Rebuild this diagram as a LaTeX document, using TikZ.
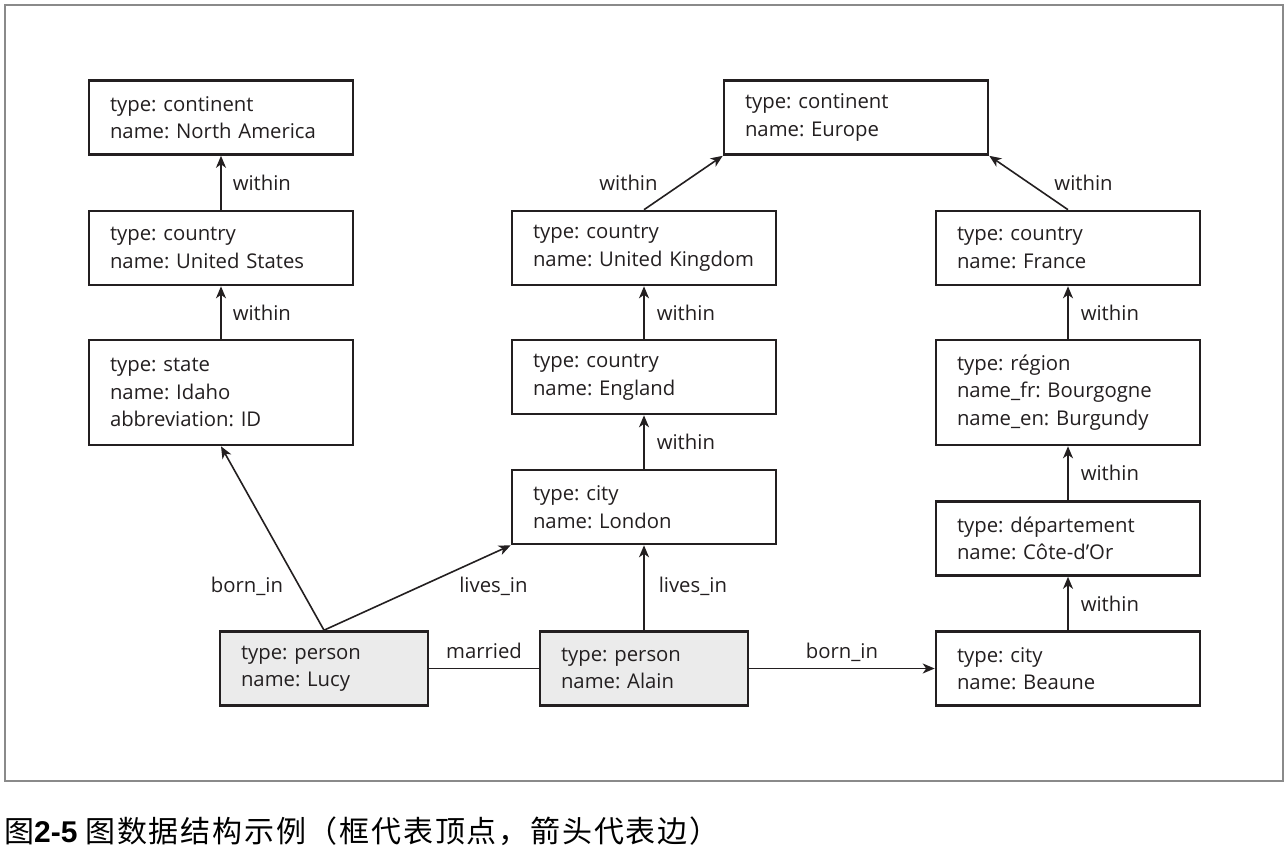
\documentclass[tikz,border=0pt]{standalone}
\usepackage{fontspec}
\setmainfont{Open Sans}
\newfontfamily\cjkfont[LetterSpace=6]{Noto Sans CJK SC}
\newfontfamily\capsans{Liberation Sans}
\usetikzlibrary{arrows.meta}
\definecolor{ink}{HTML}{231F20}
\definecolor{personfill}{HTML}{EBEBEB}
\definecolor{framegray}{HTML}{8A8A8A}
\frenchspacing
\begin{document}
\begin{tikzpicture}[x=1pt,y=-1pt,
  box/.style={draw=ink, line width=2.6pt, text=ink, text width=222pt, inner xsep=21pt, inner ysep=0pt,
    minimum height=74pt, align=left, font=\fontsize{20.3}{27.5}\selectfont},
  tallbox/.style={box, minimum height=105pt},
  personbox/.style={box, fill=personfill, text width=166pt},
  arr/.style={draw=ink, line width=1.6pt, -{Stealth[length=12pt,width=10pt,inset=3.5pt]}},
  plain/.style={draw=ink, line width=1.6pt},
  lab/.style={text=ink, inner sep=0pt, font=\fontsize{20.3}{24}\selectfont}
]
\useasboundingbox (0,0) rectangle (1288,852);
\fill[white] (0,0) rectangle (1288,852);
\draw[framegray, line width=1.4pt] (5,5) rectangle (1283,781);

% nodes
\node[box] (na) at (221,117.5) {type: continent\\name: North America};
\node[box] (us) at (221,248) {type: country\\name: United States};
\node[tallbox] (idaho) at (221,392.5) {type: state\\name: Idaho\\abbreviation: ID};
\node[box] (eu) at (856,117.5) {type: continent\\name: Europe};
\node[box] (uk) at (644,248) {type: country\\name: United Kingdom};
\node[box] (eng) at (644,377) {type: country\\name: England};
\node[box] (lon) at (644,507) {type: city\\name: London};
\node[box] (fr) at (1068,248) {type: country\\name: France};
\node[tallbox] (reg) at (1068,392.5) {type: région\\name\_fr: Bourgogne\\name\_en: Burgundy};
\node[box] (dep) at (1068,538.5) {type: département\\name: Côte-d’Or};
\node[box] (bea) at (1068,668.5) {type: city\\name: Beaune};
\node[personbox] (lucy) at (324,668.5) {type: person\\name: Lucy};
\node[personbox] (alain) at (644,668.5) {type: person\\name: Alain};

% within edges
\draw[arr] (us.north) -- (na.south) node[lab, midway, anchor=west, xshift=11pt] {within};
\draw[arr] (idaho.north) -- (us.south) node[lab, midway, anchor=west, xshift=11pt] {within};
\draw[arr] (uk.north) -- (eu.south west) node[lab, midway, anchor=east, xshift=-25pt] {within};
\draw[arr] (fr.north) -- (eu.south east) node[lab, midway, anchor=west, xshift=25pt] {within};
\draw[arr] (eng.north) -- (uk.south) node[lab, midway, anchor=west, xshift=12pt] {within};
\draw[arr] (lon.north) -- (eng.south) node[lab, midway, anchor=west, xshift=12pt] {within};
\draw[arr] (reg.north) -- (fr.south) node[lab, midway, anchor=west, xshift=12pt] {within};
\draw[arr] (dep.north) -- (reg.south) node[lab, midway, anchor=west, xshift=12pt] {within};
\draw[arr] (bea.north) -- (dep.south) node[lab, midway, anchor=west, xshift=12pt] {within};

% person edges
\draw[arr] (lucy.north) -- (idaho.south) node[lab, pos=0.205, anchor=base east, xshift=-19pt] {born\_in};
\draw[arr] (lucy.north) -- (lon.south west) node[lab, pos=0.442, anchor=base west, xshift=52pt] {lives\_in};
\draw[arr] (alain.north) -- (lon.south) node[lab, pos=0.442, anchor=base west, xshift=14pt] {lives\_in};
\draw[plain] (lucy.east) -- (alain.west) node[lab, midway, anchor=base, yshift=10pt] {married};
\draw[arr] (alain.east) -- (bea.west) node[lab, midway, anchor=base, yshift=10pt] {born\_in};

% caption
\node[anchor=base west, inner sep=0pt, text=black, font=\fontsize{30}{32}\selectfont] (cap) at (4,842)
  {{\cjkfont 图}{\capsans\bfseries 2-5} {\cjkfont 图数据结构示例（框代表顶点，箭头代表边）}};
\end{tikzpicture}
\end{document}
